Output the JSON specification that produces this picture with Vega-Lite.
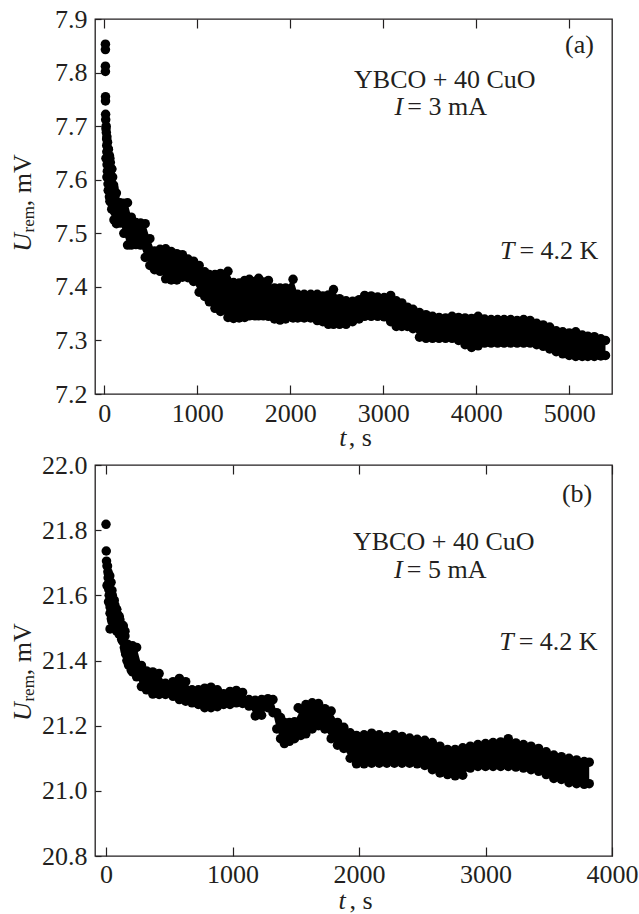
{
  "$schema": "https://vega.github.io/schema/vega-lite/v6.json",
  "background": "white",
  "padding": {"left": 9, "top": 5, "right": 5, "bottom": 5},
  "config": {
    "font": "'Liberation Serif', 'Times New Roman', 'DejaVu Serif', serif",
    "view": {"stroke": "#231f20", "strokeWidth": 1.3},
    "axis": {
      "domain": false,
      "grid": false,
      "labelFont": "'Liberation Serif', 'Times New Roman', 'DejaVu Serif', serif",
      "labelFontSize": 26,
      "labelColor": "#231f20",
      "tickColor": "#231f20",
      "tickWidth": 1.2,
      "labelFlush": false,
      "labelOverlap": false
    },
    "text": {"font": "'Liberation Serif', 'Times New Roman', 'DejaVu Serif', serif", "color": "#231f20", "fontSize": 26}
  },
  "datasets": {
    "bandA": [
      {"t": 18, "lo": 7.64, "hi": 7.695}, {"t": 28, "lo": 7.605, "hi": 7.68}, {"t": 43, "lo": 7.58, "hi": 7.657},
      {"t": 60, "lo": 7.56, "hi": 7.64}, {"t": 80, "lo": 7.545, "hi": 7.62}, {"t": 104, "lo": 7.525, "hi": 7.585},
      {"t": 130, "lo": 7.518, "hi": 7.575}, {"t": 170, "lo": 7.519, "hi": 7.557}, {"t": 210, "lo": 7.5, "hi": 7.556},
      {"t": 250, "lo": 7.478, "hi": 7.557}, {"t": 290, "lo": 7.478, "hi": 7.53}, {"t": 340, "lo": 7.479, "hi": 7.52},
      {"t": 390, "lo": 7.478, "hi": 7.519}, {"t": 440, "lo": 7.455, "hi": 7.518}, {"t": 490, "lo": 7.44, "hi": 7.49},
      {"t": 540, "lo": 7.432, "hi": 7.467}, {"t": 600, "lo": 7.429, "hi": 7.47}, {"t": 660, "lo": 7.415, "hi": 7.471},
      {"t": 720, "lo": 7.413, "hi": 7.466}, {"t": 780, "lo": 7.413, "hi": 7.462}, {"t": 840, "lo": 7.418, "hi": 7.46},
      {"t": 900, "lo": 7.417, "hi": 7.452}, {"t": 960, "lo": 7.41, "hi": 7.448}, {"t": 1020, "lo": 7.39, "hi": 7.44},
      {"t": 1080, "lo": 7.382, "hi": 7.428}, {"t": 1130, "lo": 7.372, "hi": 7.423}, {"t": 1190, "lo": 7.36, "hi": 7.423},
      {"t": 1250, "lo": 7.354, "hi": 7.425}, {"t": 1330, "lo": 7.343, "hi": 7.429}, {"t": 1390, "lo": 7.341, "hi": 7.408},
      {"t": 1450, "lo": 7.342, "hi": 7.407}, {"t": 1510, "lo": 7.343, "hi": 7.412}, {"t": 1560, "lo": 7.346, "hi": 7.414},
      {"t": 1620, "lo": 7.346, "hi": 7.41}, {"t": 1660, "lo": 7.346, "hi": 7.416}, {"t": 1710, "lo": 7.346, "hi": 7.409},
      {"t": 1765, "lo": 7.345, "hi": 7.412}, {"t": 1830, "lo": 7.34, "hi": 7.398}, {"t": 1890, "lo": 7.338, "hi": 7.398},
      {"t": 1950, "lo": 7.34, "hi": 7.398}, {"t": 2030, "lo": 7.342, "hi": 7.414}, {"t": 2080, "lo": 7.342, "hi": 7.386},
      {"t": 2150, "lo": 7.342, "hi": 7.386}, {"t": 2220, "lo": 7.342, "hi": 7.386}, {"t": 2290, "lo": 7.337, "hi": 7.386},
      {"t": 2350, "lo": 7.335, "hi": 7.383}, {"t": 2410, "lo": 7.33, "hi": 7.385}, {"t": 2465, "lo": 7.33, "hi": 7.395},
      {"t": 2530, "lo": 7.33, "hi": 7.378}, {"t": 2600, "lo": 7.33, "hi": 7.374}, {"t": 2670, "lo": 7.335, "hi": 7.373},
      {"t": 2740, "lo": 7.34, "hi": 7.376}, {"t": 2800, "lo": 7.345, "hi": 7.384}, {"t": 2870, "lo": 7.345, "hi": 7.383},
      {"t": 2940, "lo": 7.345, "hi": 7.381}, {"t": 3010, "lo": 7.344, "hi": 7.38}, {"t": 3080, "lo": 7.335, "hi": 7.384},
      {"t": 3140, "lo": 7.326, "hi": 7.374}, {"t": 3200, "lo": 7.326, "hi": 7.37}, {"t": 3260, "lo": 7.326, "hi": 7.362},
      {"t": 3320, "lo": 7.322, "hi": 7.358}, {"t": 3390, "lo": 7.306, "hi": 7.352}, {"t": 3460, "lo": 7.304, "hi": 7.348},
      {"t": 3530, "lo": 7.304, "hi": 7.345}, {"t": 3600, "lo": 7.304, "hi": 7.343}, {"t": 3670, "lo": 7.304, "hi": 7.342},
      {"t": 3740, "lo": 7.304, "hi": 7.345}, {"t": 3810, "lo": 7.3, "hi": 7.343}, {"t": 3880, "lo": 7.292, "hi": 7.342},
      {"t": 3950, "lo": 7.287, "hi": 7.341}, {"t": 4020, "lo": 7.29, "hi": 7.345}, {"t": 4090, "lo": 7.295, "hi": 7.34},
      {"t": 4160, "lo": 7.295, "hi": 7.339}, {"t": 4230, "lo": 7.295, "hi": 7.339}, {"t": 4300, "lo": 7.295, "hi": 7.339},
      {"t": 4370, "lo": 7.295, "hi": 7.339}, {"t": 4440, "lo": 7.295, "hi": 7.337}, {"t": 4510, "lo": 7.295, "hi": 7.339},
      {"t": 4580, "lo": 7.295, "hi": 7.337}, {"t": 4650, "lo": 7.292, "hi": 7.332}, {"t": 4720, "lo": 7.289, "hi": 7.329},
      {"t": 4790, "lo": 7.284, "hi": 7.325}, {"t": 4860, "lo": 7.279, "hi": 7.318}, {"t": 4930, "lo": 7.275, "hi": 7.316},
      {"t": 5000, "lo": 7.272, "hi": 7.314}, {"t": 5070, "lo": 7.27, "hi": 7.316}, {"t": 5140, "lo": 7.27, "hi": 7.31},
      {"t": 5200, "lo": 7.27, "hi": 7.308}, {"t": 5270, "lo": 7.27, "hi": 7.307}, {"t": 5340, "lo": 7.271, "hi": 7.303},
      {"t": 5390, "lo": 7.272, "hi": 7.3}
    ],
    "ptsA": [
      {"t": 12, "u": 7.853}, {"t": 12, "u": 7.843}, {"t": 12, "u": 7.812}, {"t": 12, "u": 7.802},
      {"t": 13, "u": 7.755}, {"t": 13, "u": 7.747}, {"t": 14, "u": 7.722}, {"t": 15, "u": 7.712},
      {"t": 20, "u": 7.7}, {"t": 22, "u": 7.688}, {"t": 25, "u": 7.676}, {"t": 26, "u": 7.664},
      {"t": 27, "u": 7.652}, {"t": 28, "u": 7.64}, {"t": 30, "u": 7.628}, {"t": 33, "u": 7.616},
      {"t": 36, "u": 7.604}, {"t": 40, "u": 7.592}, {"t": 45, "u": 7.58}, {"t": 55, "u": 7.568},
      {"t": 70, "u": 7.558}, {"t": 90, "u": 7.55}, {"t": 110, "u": 7.54}, {"t": 130, "u": 7.53},
      {"t": 35, "u": 7.67}, {"t": 43, "u": 7.657}, {"t": 55, "u": 7.645}, {"t": 65, "u": 7.632},
      {"t": 80, "u": 7.62}, {"t": 90, "u": 7.605}, {"t": 100, "u": 7.59}, {"t": 104, "u": 7.58},
      {"t": 115, "u": 7.565}, {"t": 60, "u": 7.6}, {"t": 75, "u": 7.59}, {"t": 85, "u": 7.575}, {"t": 95, "u": 7.56}
    ],
    "bandB": [
      {"t": 8, "lo": 21.63, "hi": 21.69}, {"t": 20, "lo": 21.58, "hi": 21.665}, {"t": 32, "lo": 21.545, "hi": 21.64},
      {"t": 47, "lo": 21.52, "hi": 21.615}, {"t": 65, "lo": 21.505, "hi": 21.585}, {"t": 84, "lo": 21.49, "hi": 21.557},
      {"t": 105, "lo": 21.48, "hi": 21.535}, {"t": 124, "lo": 21.465, "hi": 21.51}, {"t": 150, "lo": 21.43, "hi": 21.49},
      {"t": 176, "lo": 21.39, "hi": 21.445}, {"t": 210, "lo": 21.365, "hi": 21.445}, {"t": 242, "lo": 21.35, "hi": 21.44},
      {"t": 280, "lo": 21.32, "hi": 21.385}, {"t": 320, "lo": 21.31, "hi": 21.368}, {"t": 370, "lo": 21.297, "hi": 21.365},
      {"t": 420, "lo": 21.296, "hi": 21.36}, {"t": 470, "lo": 21.296, "hi": 21.33}, {"t": 530, "lo": 21.29, "hi": 21.335},
      {"t": 580, "lo": 21.28, "hi": 21.345}, {"t": 630, "lo": 21.275, "hi": 21.335}, {"t": 680, "lo": 21.27, "hi": 21.31},
      {"t": 730, "lo": 21.265, "hi": 21.31}, {"t": 780, "lo": 21.255, "hi": 21.315}, {"t": 830, "lo": 21.255, "hi": 21.318},
      {"t": 880, "lo": 21.258, "hi": 21.31}, {"t": 930, "lo": 21.265, "hi": 21.298}, {"t": 980, "lo": 21.265, "hi": 21.305},
      {"t": 1030, "lo": 21.27, "hi": 21.308}, {"t": 1080, "lo": 21.268, "hi": 21.302}, {"t": 1130, "lo": 21.26, "hi": 21.28},
      {"t": 1180, "lo": 21.23, "hi": 21.278}, {"t": 1230, "lo": 21.232, "hi": 21.28}, {"t": 1280, "lo": 21.255, "hi": 21.283},
      {"t": 1320, "lo": 21.24, "hi": 21.28}, {"t": 1350, "lo": 21.19, "hi": 21.24}, {"t": 1380, "lo": 21.16, "hi": 21.225},
      {"t": 1410, "lo": 21.145, "hi": 21.21}, {"t": 1450, "lo": 21.152, "hi": 21.21}, {"t": 1490, "lo": 21.16, "hi": 21.212},
      {"t": 1540, "lo": 21.17, "hi": 21.25}, {"t": 1580, "lo": 21.175, "hi": 21.265}, {"t": 1630, "lo": 21.19, "hi": 21.27},
      {"t": 1680, "lo": 21.2, "hi": 21.268}, {"t": 1730, "lo": 21.19, "hi": 21.252}, {"t": 1780, "lo": 21.16, "hi": 21.245},
      {"t": 1830, "lo": 21.14, "hi": 21.21}, {"t": 1880, "lo": 21.13, "hi": 21.195}, {"t": 1930, "lo": 21.1, "hi": 21.178},
      {"t": 1980, "lo": 21.083, "hi": 21.17}, {"t": 2040, "lo": 21.083, "hi": 21.172}, {"t": 2100, "lo": 21.085, "hi": 21.177},
      {"t": 2160, "lo": 21.085, "hi": 21.172}, {"t": 2220, "lo": 21.085, "hi": 21.167}, {"t": 2280, "lo": 21.085, "hi": 21.172},
      {"t": 2340, "lo": 21.085, "hi": 21.167}, {"t": 2400, "lo": 21.085, "hi": 21.162}, {"t": 2460, "lo": 21.083, "hi": 21.158},
      {"t": 2520, "lo": 21.078, "hi": 21.155}, {"t": 2580, "lo": 21.065, "hi": 21.148}, {"t": 2640, "lo": 21.055, "hi": 21.137},
      {"t": 2700, "lo": 21.05, "hi": 21.127}, {"t": 2760, "lo": 21.046, "hi": 21.127}, {"t": 2820, "lo": 21.048, "hi": 21.132},
      {"t": 2880, "lo": 21.07, "hi": 21.137}, {"t": 2940, "lo": 21.075, "hi": 21.142}, {"t": 3000, "lo": 21.075, "hi": 21.145},
      {"t": 3060, "lo": 21.075, "hi": 21.148}, {"t": 3120, "lo": 21.075, "hi": 21.15}, {"t": 3180, "lo": 21.075, "hi": 21.16},
      {"t": 3240, "lo": 21.073, "hi": 21.147}, {"t": 3300, "lo": 21.07, "hi": 21.142}, {"t": 3360, "lo": 21.065, "hi": 21.137},
      {"t": 3420, "lo": 21.06, "hi": 21.13}, {"t": 3480, "lo": 21.05, "hi": 21.12}, {"t": 3540, "lo": 21.038, "hi": 21.11},
      {"t": 3600, "lo": 21.035, "hi": 21.105}, {"t": 3660, "lo": 21.025, "hi": 21.1}, {"t": 3720, "lo": 21.022, "hi": 21.095},
      {"t": 3780, "lo": 21.02, "hi": 21.09}, {"t": 3820, "lo": 21.022, "hi": 21.088}
    ],
    "ptsB": [
      {"t": 0, "u": 21.818}, {"t": 2, "u": 21.736}, {"t": 4, "u": 21.705}, {"t": 32, "u": 21.497}, {"t": 1519, "u": 21.255},
      {"t": 12, "u": 21.69}, {"t": 15, "u": 21.672}, {"t": 17, "u": 21.654}, {"t": 19, "u": 21.636},
      {"t": 22, "u": 21.618}, {"t": 25, "u": 21.6}, {"t": 28, "u": 21.582}, {"t": 32, "u": 21.564},
      {"t": 36, "u": 21.546}, {"t": 42, "u": 21.528}, {"t": 30, "u": 21.66}, {"t": 40, "u": 21.64},
      {"t": 50, "u": 21.6}, {"t": 60, "u": 21.58}, {"t": 70, "u": 21.57}, {"t": 84, "u": 21.557},
      {"t": 95, "u": 21.54}, {"t": 110, "u": 21.525}, {"t": 137, "u": 21.506}, {"t": 55, "u": 21.535},
      {"t": 75, "u": 21.52}, {"t": 95, "u": 21.5}, {"t": 115, "u": 21.48}, {"t": 130, "u": 21.46},
      {"t": 145, "u": 21.44}, {"t": 155, "u": 21.42}, {"t": 165, "u": 21.4}, {"t": 180, "u": 21.385},
      {"t": 200, "u": 21.37}, {"t": 150, "u": 21.475}, {"t": 170, "u": 21.45}
    ]
  },
  "vconcat": [
    {
      "width": 517,
      "height": 375,
      "resolve": {"axis": {"x": "independent"}},
      "layer": [
        {
          "data": {"name": "bandA"},
          "mark": {"type": "area", "color": "#000000", "interpolate": "linear"},
          "encoding": {
            "x": {"field": "t", "type": "quantitative",
              "scale": {"domain": [-100, 5460], "nice": false, "zero": false},
              "axis": {"orient": "bottom", "values": [0, 1000, 2000, 3000, 4000, 5000], "format": "d", "tickSize": -9, "labelPadding": 15, "title": null}},
            "y": {"field": "lo", "type": "quantitative",
              "scale": {"domain": [7.2, 7.9], "nice": false, "zero": false},
              "axis": {"values": [7.2, 7.3, 7.4, 7.5, 7.6, 7.7, 7.8, 7.9], "format": ".1f", "tickSize": -6, "labelPadding": 14, "title": null}},
            "y2": {"field": "hi"}
          }
        },
        {
          "data": {"name": "bandA"},
          "mark": {"type": "circle", "size": 90, "color": "#000000", "opacity": 1},
          "encoding": {
            "x": {"field": "t", "type": "quantitative",
              "axis": {"orient": "top", "values": [0, 1000, 2000, 3000, 4000, 5000], "labels": false, "tickSize": -9, "title": null}},
            "y": {"field": "hi", "type": "quantitative"}
          }
        },
        {
          "data": {"name": "bandA"},
          "mark": {"type": "circle", "size": 90, "color": "#000000", "opacity": 1},
          "encoding": {
            "x": {"field": "t", "type": "quantitative", "axis": null},
            "y": {"field": "lo", "type": "quantitative"}
          }
        },
        {
          "data": {"name": "ptsA"},
          "mark": {"type": "circle", "size": 90, "color": "#000000", "opacity": 1},
          "encoding": {
            "x": {"field": "t", "type": "quantitative", "axis": null},
            "y": {"field": "u", "type": "quantitative"}
          }
        },
        {
          "data": {"values": [{"s": "(a)"}]},
          "mark": {"type": "text", "align": "center", "baseline": "alphabetic"},
          "encoding": {"text": {"field": "s"}, "x": {"datum": 5110, "type": "quantitative", "axis": null}, "y": {"datum": 7.837, "type": "quantitative"}}
        },
        {
          "data": {"values": [{"s": "YBCO + 40 CuO"}]},
          "mark": {"type": "text", "align": "center", "baseline": "alphabetic"},
          "encoding": {"text": {"field": "s"}, "x": {"datum": 3662, "type": "quantitative", "axis": null}, "y": {"datum": 7.771, "type": "quantitative"}}
        },
        {
          "data": {"values": [{"s": "I"}]},
          "mark": {"type": "text", "align": "right", "baseline": "alphabetic", "fontStyle": "italic"},
          "encoding": {"text": {"field": "s"}, "x": {"datum": 3215, "type": "quantitative", "axis": null}, "y": {"datum": 7.72, "type": "quantitative"}}
        },
        {
          "data": {"values": [{"s": "= 3 mA"}]},
          "mark": {"type": "text", "align": "left", "baseline": "alphabetic"},
          "encoding": {"text": {"field": "s"}, "x": {"datum": 3258, "type": "quantitative", "axis": null}, "y": {"datum": 7.72, "type": "quantitative"}}
        },
        {
          "data": {"values": [{"s": "T"}]},
          "mark": {"type": "text", "align": "right", "baseline": "alphabetic", "fontStyle": "italic"},
          "encoding": {"text": {"field": "s"}, "x": {"datum": 4410, "type": "quantitative", "axis": null}, "y": {"datum": 7.452, "type": "quantitative"}}
        },
        {
          "data": {"values": [{"s": "= 4.2 K"}]},
          "mark": {"type": "text", "align": "left", "baseline": "alphabetic"},
          "encoding": {"text": {"field": "s"}, "x": {"datum": 4464, "type": "quantitative", "axis": null}, "y": {"datum": 7.452, "type": "quantitative"}}
        },
        {
          "data": {"values": [{"s": "t"}]},
          "mark": {"type": "text", "align": "right", "baseline": "alphabetic", "fontStyle": "italic"},
          "encoding": {"text": {"field": "s"}, "x": {"datum": 2605, "type": "quantitative", "axis": null}, "y": {"datum": 7.1024, "type": "quantitative"}}
        },
        {
          "data": {"values": [{"s": ", s"}]},
          "mark": {"type": "text", "align": "left", "baseline": "alphabetic"},
          "encoding": {"text": {"field": "s"}, "x": {"datum": 2630, "type": "quantitative", "axis": null}, "y": {"datum": 7.1024, "type": "quantitative"}}
        },
        {
          "data": {"values": [{"s": "U"}]},
          "mark": {"type": "text", "align": "left", "baseline": "alphabetic", "angle": 270, "fontStyle": "italic"},
          "encoding": {"text": {"field": "s"}, "x": {"datum": -792, "type": "quantitative", "axis": null}, "y": {"datum": 7.4655, "type": "quantitative"}}
        },
        {
          "data": {"values": [{"s": "rem"}]},
          "mark": {"type": "text", "align": "left", "baseline": "alphabetic", "angle": 270, "fontSize": 17},
          "encoding": {"text": {"field": "s"}, "x": {"datum": -757, "type": "quantitative", "axis": null}, "y": {"datum": 7.5015, "type": "quantitative"}}
        },
        {
          "data": {"values": [{"s": ", mV"}]},
          "mark": {"type": "text", "align": "left", "baseline": "alphabetic", "angle": 270},
          "encoding": {"text": {"field": "s"}, "x": {"datum": -792, "type": "quantitative", "axis": null}, "y": {"datum": 7.5505, "type": "quantitative"}}
        }
      ]
    },
    {
      "width": 517,
      "height": 391,
      "resolve": {"axis": {"x": "independent"}},
      "layer": [
        {
          "data": {"name": "bandB"},
          "mark": {"type": "area", "color": "#000000", "interpolate": "linear"},
          "encoding": {
            "x": {"field": "t", "type": "quantitative",
              "scale": {"domain": [-87, 4000], "nice": false, "zero": false},
              "axis": {"orient": "bottom", "values": [0, 1000, 2000, 3000, 4000], "format": "d", "tickSize": -9, "labelPadding": 14, "title": null}},
            "y": {"field": "lo", "type": "quantitative",
              "scale": {"domain": [20.8, 22.0], "nice": false, "zero": false},
              "axis": {"values": [20.8, 21.0, 21.2, 21.4, 21.6, 21.8, 22.0], "format": ".1f", "tickSize": -6, "labelPadding": 14, "title": null}},
            "y2": {"field": "hi"}
          }
        },
        {
          "data": {"name": "bandB"},
          "mark": {"type": "circle", "size": 90, "color": "#000000", "opacity": 1},
          "encoding": {
            "x": {"field": "t", "type": "quantitative",
              "axis": {"orient": "top", "values": [0, 1000, 2000, 3000, 4000], "labels": false, "tickSize": -9, "title": null}},
            "y": {"field": "hi", "type": "quantitative"}
          }
        },
        {
          "data": {"name": "bandB"},
          "mark": {"type": "circle", "size": 90, "color": "#000000", "opacity": 1},
          "encoding": {
            "x": {"field": "t", "type": "quantitative", "axis": null},
            "y": {"field": "lo", "type": "quantitative"}
          }
        },
        {
          "data": {"name": "ptsB"},
          "mark": {"type": "circle", "size": 90, "color": "#000000", "opacity": 1},
          "encoding": {
            "x": {"field": "t", "type": "quantitative", "axis": null},
            "y": {"field": "u", "type": "quantitative"}
          }
        },
        {
          "data": {"values": [{"s": "(b)"}]},
          "mark": {"type": "text", "align": "center", "baseline": "alphabetic"},
          "encoding": {"text": {"field": "s"}, "x": {"datum": 3724, "type": "quantitative", "axis": null}, "y": {"datum": 21.886, "type": "quantitative"}}
        },
        {
          "data": {"values": [{"s": "YBCO + 40 CuO"}]},
          "mark": {"type": "text", "align": "center", "baseline": "alphabetic"},
          "encoding": {"text": {"field": "s"}, "x": {"datum": 2670, "type": "quantitative", "axis": null}, "y": {"datum": 21.7405, "type": "quantitative"}}
        },
        {
          "data": {"values": [{"s": "I"}]},
          "mark": {"type": "text", "align": "right", "baseline": "alphabetic", "fontStyle": "italic"},
          "encoding": {"text": {"field": "s"}, "x": {"datum": 2346, "type": "quantitative", "axis": null}, "y": {"datum": 21.6544, "type": "quantitative"}}
        },
        {
          "data": {"values": [{"s": "= 5 mA"}]},
          "mark": {"type": "text", "align": "left", "baseline": "alphabetic"},
          "encoding": {"text": {"field": "s"}, "x": {"datum": 2378, "type": "quantitative", "axis": null}, "y": {"datum": 21.6544, "type": "quantitative"}}
        },
        {
          "data": {"values": [{"s": "T"}]},
          "mark": {"type": "text", "align": "right", "baseline": "alphabetic", "fontStyle": "italic"},
          "encoding": {"text": {"field": "s"}, "x": {"datum": 3223, "type": "quantitative", "axis": null}, "y": {"datum": 21.432, "type": "quantitative"}}
        },
        {
          "data": {"values": [{"s": "= 4.2 K"}]},
          "mark": {"type": "text", "align": "left", "baseline": "alphabetic"},
          "encoding": {"text": {"field": "s"}, "x": {"datum": 3262, "type": "quantitative", "axis": null}, "y": {"datum": 21.432, "type": "quantitative"}}
        },
        {
          "data": {"values": [{"s": "t"}]},
          "mark": {"type": "text", "align": "right", "baseline": "alphabetic", "fontStyle": "italic"},
          "encoding": {"text": {"field": "s"}, "x": {"datum": 1895, "type": "quantitative", "axis": null}, "y": {"datum": 20.637, "type": "quantitative"}}
        },
        {
          "data": {"values": [{"s": ", s"}]},
          "mark": {"type": "text", "align": "left", "baseline": "alphabetic"},
          "encoding": {"text": {"field": "s"}, "x": {"datum": 1925, "type": "quantitative", "axis": null}, "y": {"datum": 20.637, "type": "quantitative"}}
        },
        {
          "data": {"values": [{"s": "U"}]},
          "mark": {"type": "text", "align": "left", "baseline": "alphabetic", "angle": 270, "fontStyle": "italic"},
          "encoding": {"text": {"field": "s"}, "x": {"datum": -595, "type": "quantitative", "axis": null}, "y": {"datum": 21.214, "type": "quantitative"}}
        },
        {
          "data": {"values": [{"s": "rem"}]},
          "mark": {"type": "text", "align": "left", "baseline": "alphabetic", "angle": 270, "fontSize": 17},
          "encoding": {"text": {"field": "s"}, "x": {"datum": -569, "type": "quantitative", "axis": null}, "y": {"datum": 21.274, "type": "quantitative"}}
        },
        {
          "data": {"values": [{"s": ", mV"}]},
          "mark": {"type": "text", "align": "left", "baseline": "alphabetic", "angle": 270},
          "encoding": {"text": {"field": "s"}, "x": {"datum": -595, "type": "quantitative", "axis": null}, "y": {"datum": 21.355, "type": "quantitative"}}
        }
      ]
    }
  ],
  "spacing": 71,
  "bounds": "flush"
}
